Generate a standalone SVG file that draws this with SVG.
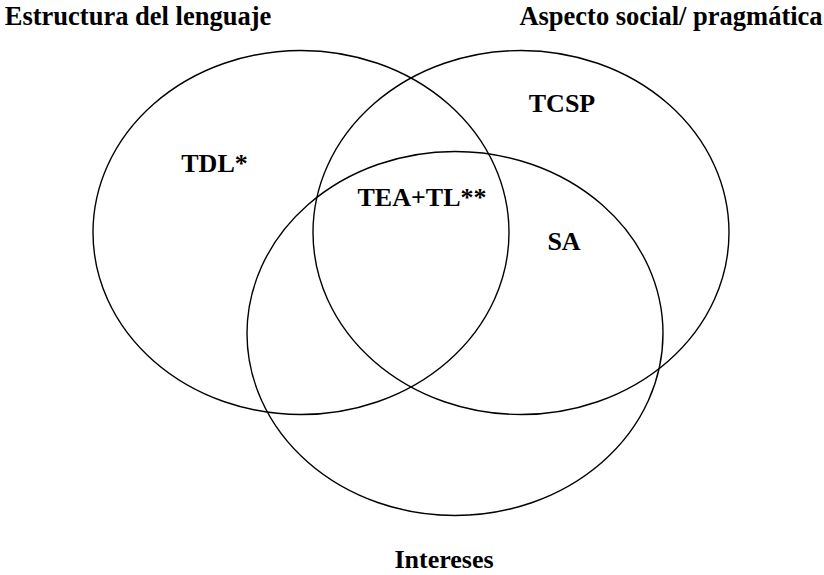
<svg xmlns="http://www.w3.org/2000/svg" width="824" height="575" viewBox="0 0 824 575">
<style>
.set{fill:none;stroke:#000;stroke-width:1.4}
.lbl{font-family:'Liberation Serif','Times New Roman',Times,serif;font-weight:700;font-size:26px;fill:#000;text-anchor:middle}
.hdr{font-size:26.5px}
</style>
<rect width="824" height="575" fill="#fff"/>
<g id="set-estructura">
<ellipse class="set" cx="301" cy="232.5" rx="208" ry="182"/>
<text class="lbl hdr" x="138" y="25">Estructura del lenguaje</text>
<text class="lbl" x="214.5" y="172">TDL*</text>
</g>
<g id="set-aspecto">
<ellipse class="set" cx="521" cy="232.5" rx="208" ry="182"/>
<text class="lbl hdr" x="671" y="25">Aspecto social/ pragmática</text>
<text class="lbl" x="562" y="112">TCSP</text>
<text class="lbl" x="564" y="250">SA</text>
</g>
<g id="set-intereses">
<ellipse class="set" cx="455" cy="333.5" rx="208" ry="182"/>
<text class="lbl" x="444" y="568">Intereses</text>
</g>
<g id="overlap">
<text class="lbl" x="422" y="206">TEA+TL**</text>
</g>
</svg>
